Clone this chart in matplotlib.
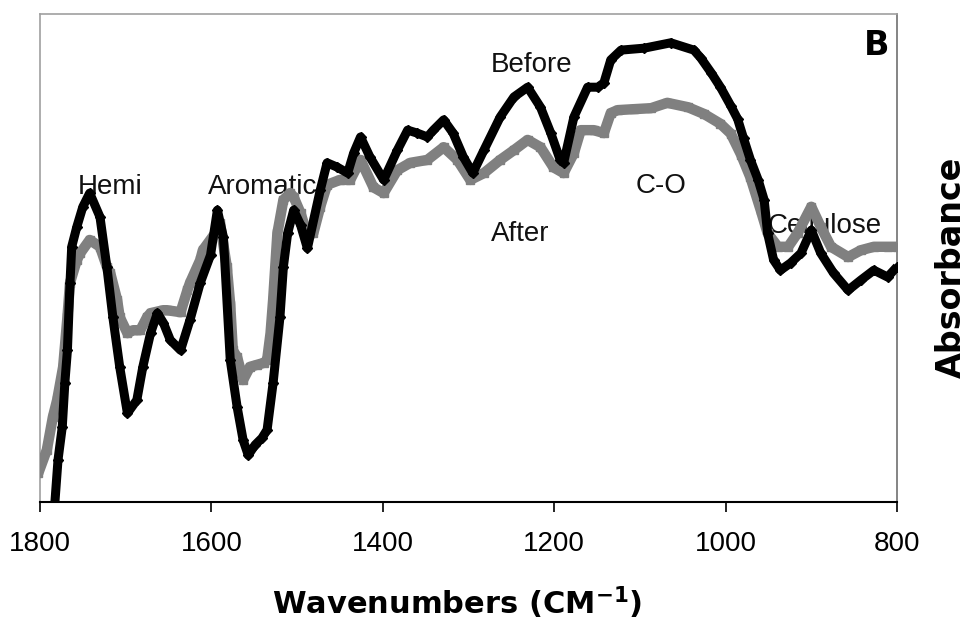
import matplotlib
matplotlib.use('Agg')
import matplotlib.pyplot as plt

# FTIR spectra, absorbance in arbitrary units (0 = axis bottom, 1 = top)
wn_before = [1783, 1779, 1774, 1771, 1768, 1765, 1763, 1757, 1750, 1742,
             1730, 1722, 1715, 1707, 1698, 1687, 1680, 1671, 1663, 1656,
             1648, 1636, 1625, 1613, 1601, 1593, 1586, 1578, 1570, 1563,
             1557, 1549, 1541, 1535, 1528, 1520, 1516, 1511, 1504, 1496,
             1488, 1473, 1465, 1453, 1441, 1434, 1426, 1415, 1399, 1383,
             1371, 1360, 1348, 1341, 1329, 1318, 1306, 1295, 1282, 1263,
             1247, 1231, 1216, 1204, 1193, 1189, 1177, 1161, 1149, 1142,
             1134, 1122, 1095, 1064, 1037, 1029, 1017, 1006, 994,
             986, 979, 971, 962, 955, 951, 944, 936, 924, 912,
             900, 889, 874, 857, 842, 827, 811, 800]
abs_before = [-0.01, 0.086, 0.154, 0.244, 0.311, 0.449, 0.523, 0.564, 0.605, 0.633,
              0.584, 0.482, 0.379, 0.277, 0.182, 0.209, 0.277, 0.346, 0.387, 0.367,
              0.332, 0.311, 0.373, 0.449, 0.506, 0.598, 0.543, 0.291, 0.195, 0.127,
              0.096, 0.117, 0.131, 0.148, 0.244, 0.379, 0.482, 0.551, 0.598, 0.568,
              0.520, 0.639, 0.695, 0.686, 0.674, 0.715, 0.748, 0.707, 0.660, 0.721,
              0.762, 0.756, 0.748, 0.762, 0.783, 0.756, 0.707, 0.674, 0.721, 0.789,
              0.830, 0.850, 0.809, 0.756, 0.701, 0.695, 0.789, 0.850, 0.850, 0.859,
              0.906, 0.926, 0.930, 0.941, 0.926, 0.910, 0.880, 0.850, 0.812,
              0.785, 0.745, 0.701, 0.660, 0.619, 0.551, 0.496, 0.475, 0.490, 0.510,
              0.557, 0.510, 0.469, 0.434, 0.455, 0.475, 0.461, 0.482]

wn_after = [1802, 1792, 1785, 1780, 1773, 1768, 1765, 1757, 1753, 1742,
            1730, 1722, 1718, 1710, 1707, 1698, 1691, 1683, 1675, 1671,
            1656, 1652, 1636, 1628, 1625, 1613, 1610, 1593, 1590, 1582,
            1578, 1575, 1570, 1563, 1555, 1547, 1539, 1535, 1531, 1528,
            1523, 1516, 1508, 1504, 1496, 1488, 1481, 1473, 1465, 1450,
            1438, 1426, 1411, 1399, 1383, 1368, 1348, 1329, 1313, 1298,
            1282, 1263, 1247, 1231, 1216, 1201, 1189, 1177, 1169, 1154,
            1142, 1134, 1126, 1107, 1087, 1068, 1044, 1025, 1006, 994,
            982, 971, 959, 951, 939, 927, 916, 900, 889, 877,
            857, 842, 827, 811, 800]
abs_after = [0.059, 0.107, 0.174, 0.209, 0.277, 0.379, 0.449, 0.496, 0.510, 0.537,
             0.523, 0.482, 0.469, 0.414, 0.379, 0.346, 0.352, 0.352, 0.379, 0.387,
             0.393, 0.393, 0.389, 0.434, 0.449, 0.496, 0.516, 0.557, 0.572, 0.482,
             0.404, 0.311, 0.297, 0.250, 0.277, 0.281, 0.285, 0.291, 0.346, 0.414,
             0.551, 0.619, 0.633, 0.625, 0.592, 0.547, 0.551, 0.605, 0.650, 0.660,
             0.660, 0.701, 0.645, 0.633, 0.680, 0.695, 0.701, 0.727, 0.701, 0.660,
             0.674, 0.701, 0.721, 0.742, 0.727, 0.686, 0.674, 0.715, 0.762, 0.762,
             0.756, 0.797, 0.803, 0.805, 0.807, 0.818, 0.809, 0.795, 0.775, 0.755,
             0.712, 0.665, 0.598, 0.551, 0.523, 0.523, 0.551, 0.605, 0.564, 0.523,
             0.502, 0.516, 0.523, 0.523, 0.523]

x_ticks = [1800, 1600, 1400, 1200, 1000, 800]

# band labels: (text, wavenumber, absorbance)
labels = [('Hemi', 1756, 0.631), ('Aromatic', 1604, 0.631),
          ('Before', 1274, 0.881), ('After', 1274, 0.535),
          ('C-O', 1105, 0.633), ('Cellulose', 951, 0.551)]

fig = plt.figure(figsize=(9.74, 6.30), dpi=100)
ax = fig.add_axes([40 / 974, 128 / 630, 857 / 974, 488 / 630])

ax.plot(wn_after, abs_after, color='#808080', lw=7.5, marker='s', ms=6,
        solid_joinstyle='round', solid_capstyle='butt', zorder=3)
ax.plot(wn_before, abs_before, color='black', lw=6.5, marker='D', ms=5,
        solid_joinstyle='round', solid_capstyle='butt', zorder=4)

for txt, x, y in labels:
    ax.text(x, y, txt, fontsize=20, family='Liberation Sans', color='#111111',
            ha='left', va='baseline', zorder=2)
ax.text(839, 0.916, 'B', fontsize=24, fontweight='bold', family='DejaVu Sans',
        ha='left', va='baseline', zorder=2)

ax.set_xlim(1800, 800)
ax.set_ylim(0, 1)
ax.set_xticks(x_ticks)
ax.set_xticklabels([str(t) for t in x_ticks], family='Liberation Sans', fontsize=20)
ax.set_yticks([])
ax.tick_params(axis='x', direction='out', length=7, width=1.2, pad=14, colors='black')

for side in ['left', 'top']:
    ax.spines[side].set_color('#a0a0a0')
    ax.spines[side].set_linewidth(1.2)
ax.spines['right'].set_color('#707070')
ax.spines['right'].set_linewidth(1.2)
ax.spines['bottom'].set_color('black')
ax.spines['bottom'].set_linewidth(1.5)

fig.text(457 / 974, 1 - 603 / 630, r'Wavenumbers (CM$^{\mathbf{-1}}$)',
         fontsize=22, fontweight='bold', family='DejaVu Sans', ha='center', va='center')
fig.text(951 / 974, 1 - 267 / 630, 'Absorbance', fontsize=24, fontweight='bold',
         family='DejaVu Sans', rotation=90, ha='center', va='center')

fig.savefig('out.png', dpi=100)
